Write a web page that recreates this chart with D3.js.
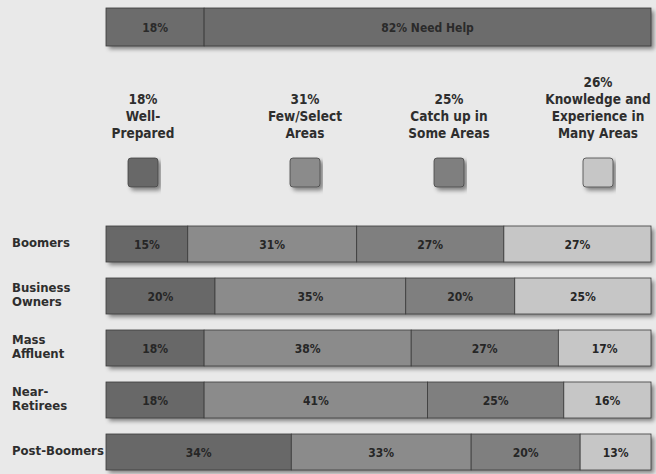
<!DOCTYPE html>
<html>
<head>
<meta charset="utf-8">
<script src="https://cdn.jsdelivr.net/npm/d3@7/dist/d3.min.js"></script>
<style>
  html, body { margin: 0; padding: 0; background: #e9e9e9; }
  svg { display: block; }
  text { font-family: "Liberation Sans Narrow", "DejaVu Sans Condensed", "Roboto Condensed", sans-serif; }
</style>
</head>
<body>
<svg id="chart" width="656" height="474"></svg>
<script>
// Overall split
const overall = [
  { label: "18%", value: 18 },
  { label: "82% Need Help", value: 82 }
];

// Preparedness segments (legend)
const segmentKeys = ["well", "few", "catchup", "many"];
const segmentShares = [18, 31, 25, 26];
const segmentNames = [
  ["Well-", "Prepared"],
  ["Few/Select", "Areas"],
  ["Catch up in", "Some Areas"],
  ["Knowledge and", "Experience in", "Many Areas"]
];
const segmentColors = ["#686868", "#8b8b8b", "#7f7f7f", "#c6c6c6"];

// Groups and their segment percentages
const groups = [["Boomers"], ["Business", "Owners"], ["Mass", "Affluent"], ["Near-", "Retirees"], ["Post-Boomers"]];
const well    = [15, 20, 18, 18, 34];
const few     = [31, 35, 38, 41, 33];
const catchup = [27, 20, 27, 25, 20];
const many    = [27, 25, 17, 16, 13];

const svg = d3.select("#chart");

const defs = svg.append("defs");
const f = defs.append("filter").attr("id", "shadow")
  .attr("x", "-5%").attr("y", "-20%").attr("width", "115%").attr("height", "160%");
f.append("feDropShadow").attr("dx", 3).attr("dy", 3).attr("stdDeviation", 2)
  .attr("flood-color", "#000").attr("flood-opacity", 0.45);

const x = d3.scaleLinear().domain([0, 100]).range([106, 651]);

// Top bar: well-prepared vs need help
const overallStack = [];
let acc = 0;
overall.forEach(d => { overallStack.push({ ...d, x0: acc, x1: acc + d.value }); acc += d.value; });

const topBar = svg.append("g");
topBar.append("rect")
  .attr("x", x(0)).attr("y", 8).attr("width", x(100) - x(0)).attr("height", 38)
  .attr("fill", "#6c6c6c").attr("filter", "url(#shadow)");
topBar.selectAll("rect.seg").data(overallStack).join("rect")
  .attr("class", "seg")
  .attr("x", d => x(d.x0)).attr("y", 8)
  .attr("width", d => x(d.x1) - x(d.x0)).attr("height", 38)
  .attr("fill", "#6c6c6c").attr("stroke", "#3a3a3a").attr("stroke-width", 0.8);
topBar.selectAll("text").data(overallStack).join("text")
  .attr("x", d => x((d.x0 + d.x1) / 2)).attr("y", 32)
  .attr("text-anchor", "middle").attr("font-size", 12).attr("font-weight", "bold")
  .attr("fill", "#2a2a2a").text(d => d.label);

// Legend
const legendCenters = { well: 143, few: 305, catchup: 449, many: 598 };
const leg = svg.append("g");
segmentKeys.forEach((k, i) => {
  const cx = legendCenters[k];
  const lines = [segmentShares[i] + "%"].concat(segmentNames[i]);
  const baseY = 138 - (lines.length - 1) * 17;
  const t = leg.append("text").attr("text-anchor", "middle")
    .attr("font-size", 13.5).attr("font-weight", "bold").attr("fill", "#2e2e2e");
  lines.forEach((ln, j) => {
    t.append("tspan").attr("x", cx).attr("y", baseY + j * 17).text(ln);
  });
  leg.append("rect")
    .attr("x", cx - 15).attr("y", 158).attr("width", 30).attr("height", 29)
    .attr("rx", 3).attr("fill", segmentColors[i])
    .attr("stroke", "#444").attr("stroke-width", 0.8)
    .attr("filter", "url(#shadow)");
});

// Group bars
const table = groups.map((g, i) => ({
  name: g, well: well[i], few: few[i], catchup: catchup[i], many: many[i]
}));
const stack = d3.stack().keys(segmentKeys)(table);

const y = d3.scaleBand().domain(d3.range(groups.length)).range([226, 470]).paddingInner(16 / 52).paddingOuter(0);
const color = d3.scaleOrdinal().domain(segmentKeys).range(segmentColors);

const bars = svg.append("g");
bars.selectAll("rect.back").data(table).join("rect")
  .attr("class", "back")
  .attr("x", x(0)).attr("y", (d, i) => y(i))
  .attr("width", x(100) - x(0)).attr("height", y.bandwidth())
  .attr("fill", "#777").attr("filter", "url(#shadow)");

stack.forEach(layer => {
  const g = bars.append("g");
  g.selectAll("rect").data(layer).join("rect")
    .attr("x", d => x(d[0])).attr("y", (d, i) => y(i))
    .attr("width", d => x(d[1]) - x(d[0])).attr("height", y.bandwidth())
    .attr("fill", color(layer.key)).attr("stroke", "#3c3c3c").attr("stroke-width", 0.8);
  g.selectAll("text").data(layer).join("text")
    .attr("x", d => x((d[0] + d[1]) / 2)).attr("y", (d, i) => y(i) + y.bandwidth() / 2 + 4.5)
    .attr("text-anchor", "middle").attr("font-size", 12).attr("font-weight", "bold")
    .attr("fill", "#262626").text(d => (d[1] - d[0]) + "%");
});

// Group labels
const labels = svg.append("g");
table.forEach((d, i) => {
  const cy = y(i) + y.bandwidth() / 2 - 2;
  const n = d.name.length;
  const t = labels.append("text").attr("font-size", 13).attr("font-weight", "bold").attr("fill", "#2e2e2e");
  d.name.forEach((ln, j) => {
    t.append("tspan").attr("x", 12).attr("y", cy + 4.5 + (j - (n - 1) / 2) * 14).text(ln);
  });
});
</script>
</body>
</html>
